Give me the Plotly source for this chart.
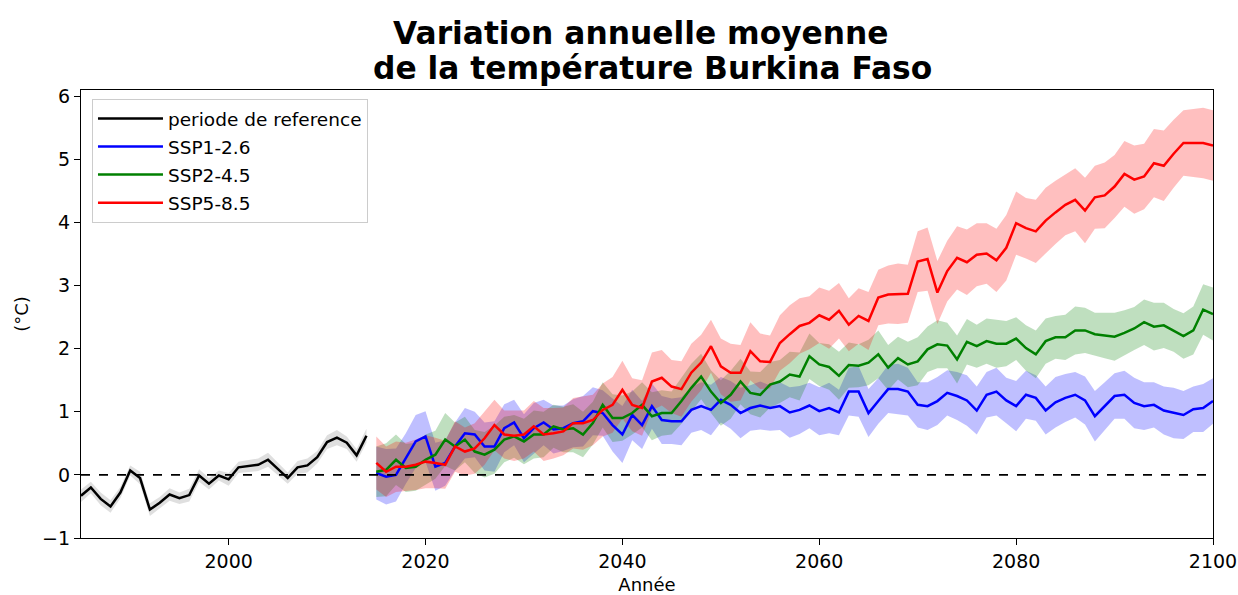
import plotly.graph_objects as go

# ---------------- data ----------------
hist_years = list(range(1985, 2015))
hist_values = [-0.33, -0.20, -0.38, -0.50, -0.28, 0.07, -0.05, -0.55, -0.44, -0.31,
               -0.37, -0.32, -0.01, -0.14, -0.01, -0.07, 0.12, 0.14, 0.16, 0.24,
               0.10, -0.05, 0.12, 0.15, 0.28, 0.52, 0.59, 0.51, 0.31, 0.62]
hist_spread = [0.10, 0.09, 0.10, 0.10, 0.09, 0.08, 0.10, 0.10, 0.09, 0.10,
               0.09, 0.10, 0.10, 0.09, 0.08, 0.10, 0.09, 0.10, 0.10, 0.11,
               0.10, 0.09, 0.10, 0.11, 0.10, 0.11, 0.12, 0.10, 0.10, 0.11]

ssp_years = list(range(2015, 2101))

ssp126 = [0.03, -0.03, 0.00, 0.26, 0.53, 0.61, 0.13, 0.19, 0.45, 0.66,
          0.64, 0.45, 0.45, 0.74, 0.83, 0.58, 0.74, 0.83, 0.72, 0.74,
          0.82, 0.85, 1.01, 0.98, 0.79, 0.64, 0.95, 0.79, 1.09, 0.87,
          0.85, 0.85, 1.03, 1.09, 1.03, 1.19, 1.11, 0.98, 1.06, 1.10,
          1.06, 1.09, 0.99, 1.03, 1.10, 1.01, 1.06, 0.99, 1.32, 1.32,
          0.98, 1.17, 1.36, 1.36, 1.32, 1.11, 1.09,
          1.17, 1.30, 1.25, 1.18, 1.02, 1.27, 1.32, 1.18, 1.09, 1.27,
          1.22, 1.02, 1.15, 1.22, 1.27, 1.18, 0.93, 1.09, 1.25, 1.27,
          1.14, 1.09, 1.11, 1.02, 0.98, 0.95, 1.04, 1.06, 1.17]
ssp126_spread = [0.42, 0.44, 0.42, 0.40, 0.42, 0.40, 0.38, 0.36, 0.38, 0.40,
                 0.36, 0.38, 0.40, 0.38, 0.36, 0.38, 0.40, 0.36, 0.38, 0.36,
                 0.38, 0.40, 0.38, 0.36, 0.42, 0.45, 0.40, 0.38, 0.36, 0.38,
                 0.36, 0.38, 0.36, 0.38, 0.40, 0.36, 0.38, 0.40, 0.36, 0.38,
                 0.36, 0.38, 0.40, 0.38, 0.36, 0.38, 0.40, 0.36, 0.38, 0.40,
                 0.38, 0.36, 0.38, 0.40, 0.38, 0.36, 0.38,
                 0.38, 0.36, 0.38, 0.40, 0.38, 0.36, 0.38, 0.36, 0.40, 0.38,
                 0.36, 0.38, 0.40, 0.38, 0.36, 0.38, 0.40, 0.38, 0.36, 0.38,
                 0.40, 0.38, 0.36, 0.38, 0.40, 0.38, 0.36, 0.38, 0.36]

ssp245 = [0.05, 0.08, 0.24, 0.11, 0.13, 0.24, 0.32, 0.56, 0.45, 0.56,
          0.37, 0.32, 0.40, 0.56, 0.61, 0.53, 0.64, 0.64, 0.77, 0.72,
          0.74, 0.64, 0.82, 1.11, 0.90, 0.90, 0.98, 1.11, 0.93, 0.98,
          0.98, 1.17, 1.38, 1.56, 1.32, 1.14, 1.27, 1.48, 1.30, 1.27,
          1.43, 1.48, 1.59, 1.56, 1.88, 1.75, 1.71, 1.57, 1.74, 1.73,
          1.78, 1.91, 1.70, 1.85, 1.75, 1.80, 1.99,
          2.07, 2.05, 1.83, 2.11, 2.04, 2.12, 2.08, 2.08, 2.16, 2.01,
          1.91, 2.12, 2.18, 2.18, 2.29, 2.29, 2.23, 2.21, 2.19, 2.25,
          2.32, 2.42, 2.35, 2.37, 2.29, 2.20, 2.29, 2.62, 2.55]
ssp245_spread = [0.40, 0.42, 0.40, 0.38, 0.38, 0.40, 0.38, 0.42, 0.38, 0.36,
                 0.34, 0.36, 0.38, 0.36, 0.34, 0.36, 0.38, 0.36, 0.34, 0.36,
                 0.38, 0.36, 0.34, 0.36, 0.38, 0.36, 0.34, 0.36, 0.38, 0.36,
                 0.34, 0.36, 0.38, 0.36, 0.34, 0.36, 0.38, 0.36, 0.34, 0.36,
                 0.36, 0.34, 0.36, 0.38, 0.36, 0.34, 0.36, 0.38, 0.36, 0.34,
                 0.36, 0.38, 0.36, 0.34, 0.36, 0.38, 0.36,
                 0.38, 0.36, 0.38, 0.36, 0.34, 0.36, 0.38, 0.36, 0.34, 0.36,
                 0.38, 0.36, 0.34, 0.36, 0.38, 0.36, 0.34, 0.36, 0.38, 0.36,
                 0.34, 0.36, 0.38, 0.36, 0.34, 0.36, 0.38, 0.40, 0.42]

ssp585 = [0.19, 0.05, 0.13, 0.13, 0.16, 0.21, 0.19, 0.16, 0.45, 0.37,
          0.42, 0.58, 0.79, 0.64, 0.62, 0.64, 0.77, 0.64, 0.66, 0.69,
          0.82, 0.82, 0.87, 1.03, 1.11, 1.35, 1.11, 1.06, 1.48, 1.54,
          1.40, 1.36, 1.62, 1.78, 2.04, 1.72, 1.62, 1.62, 1.96, 1.80,
          1.79, 2.09, 2.23, 2.36, 2.41, 2.53, 2.46, 2.60, 2.38, 2.52,
          2.44, 2.81, 2.86, 2.87, 2.87, 3.38, 3.42,
          2.89, 3.23, 3.44, 3.37, 3.49, 3.51, 3.40, 3.60, 3.99, 3.91,
          3.86, 4.03, 4.16, 4.28, 4.36, 4.19, 4.40, 4.43, 4.57, 4.77,
          4.68, 4.73, 4.94, 4.90, 5.09, 5.26, 5.26, 5.26, 5.22]
ssp585_spread = [0.42, 0.40, 0.40, 0.38, 0.40, 0.42, 0.40, 0.38, 0.40, 0.38,
                 0.40, 0.42, 0.40, 0.38, 0.40, 0.38, 0.40, 0.42, 0.40, 0.38,
                 0.40, 0.42, 0.40, 0.42, 0.44, 0.46, 0.42, 0.44, 0.46, 0.44,
                 0.42, 0.44, 0.46, 0.44, 0.42, 0.44, 0.46, 0.44, 0.46, 0.44,
                 0.42, 0.44, 0.46, 0.44, 0.42, 0.44, 0.46, 0.44, 0.42, 0.44,
                 0.46, 0.44, 0.46, 0.48, 0.46, 0.48, 0.50,
                 0.50, 0.48, 0.50, 0.52, 0.50, 0.48, 0.50, 0.52, 0.50, 0.48,
                 0.50, 0.52, 0.50, 0.48, 0.50, 0.52, 0.50, 0.52, 0.50, 0.52,
                 0.54, 0.52, 0.54, 0.56, 0.54, 0.52, 0.54, 0.56, 0.56]

assert len(hist_values) == len(hist_years) == len(hist_spread)
for s in (ssp126, ssp126_spread, ssp245, ssp245_spread, ssp585, ssp585_spread):
    assert len(s) == len(ssp_years), len(s)

series = [
    ("SSP1-2.6", ssp126, ssp126_spread, "#0000ff", "rgba(0,0,255,0.25)"),
    ("SSP2-4.5", ssp245, ssp245_spread, "#008000", "rgba(0,128,0,0.25)"),
    ("SSP5-8.5", ssp585, ssp585_spread, "#ff0000", "rgba(255,0,0,0.25)"),
]

FONT = "DejaVu Sans"

fig = go.Figure()


def add_band(years, vals, spread, fillcolor):
    upper = [v + s for v, s in zip(vals, spread)]
    lower = [v - s for v, s in zip(vals, spread)]
    fig.add_trace(go.Scatter(
        x=list(years) + list(years)[::-1],
        y=upper + lower[::-1],
        fill="toself", fillcolor=fillcolor,
        line=dict(width=0), mode="lines",
        showlegend=False, hoverinfo="skip"))


# historical
add_band(hist_years, hist_values, hist_spread, "rgba(128,128,128,0.25)")
fig.add_trace(go.Scatter(x=hist_years, y=hist_values, mode="lines",
                         line=dict(color="black", width=2.5),
                         name="periode de reference", legendgroup="g0"))

for i, (name, vals, spread, col, fcol) in enumerate(series):
    add_band(ssp_years, vals, spread, fcol)

for i, (name, vals, spread, col, fcol) in enumerate(series):
    fig.add_trace(go.Scatter(x=ssp_years, y=vals, mode="lines",
                             line=dict(color=col, width=2.5),
                             name=name, legendgroup=f"g{i+1}"))

# zero reference line
fig.add_shape(type="line", xref="paper", x0=0, x1=1, yref="y", y0=0, y1=0,
              line=dict(color="black", width=1.6, dash="dash"), layer="above")

axis_common = dict(
    showline=True, linecolor="black", linewidth=1.3, mirror=True,
    ticks="outside", ticklen=6, tickwidth=1.3, tickcolor="black",
    showgrid=False, zeroline=False, automargin=False,
    tickfont=dict(family=FONT, size=19, color="black"),
)

fig.update_layout(
    width=1238, height=595,
    margin=dict(l=81, r=25, t=90, b=57),
    paper_bgcolor="white", plot_bgcolor="white",
    font=dict(family=FONT, color="black"),
    xaxis=dict(range=[1985, 2100], tickvals=[2000, 2020, 2040, 2060, 2080, 2100],
               title=dict(text="Année", font=dict(family=FONT, size=18), standoff=7),
               **axis_common),
    yaxis=dict(range=[-1, 6.1], tickvals=[-1, 0, 1, 2, 3, 4, 5, 6],
               ticktext=["\u22121", "0", "1", "2", "3", "4", "5", "6"],
               title=dict(text="(°C)", font=dict(family=FONT, size=18), standoff=8),
               **axis_common),
    legend=dict(x=0.0097, y=0.98, xanchor="left", yanchor="top",
                bgcolor="rgba(255,255,255,0.8)", bordercolor="#cccccc", borderwidth=1,
                font=dict(family=FONT, size=18.5, color="black"),
                traceorder="grouped", tracegroupgap=1, itemwidth=65),
    annotations=[
        dict(text="<b>Variation annuelle moyenne</b>", xref="paper", yref="paper",
             x=0.495, y=1.127, xanchor="center", yanchor="middle", showarrow=False,
             font=dict(family=FONT, size=31.3, color="black")),
        dict(text="<b>de la température Burkina Faso</b>", xref="paper", yref="paper",
             x=0.505, y=1.049, xanchor="center", yanchor="middle", showarrow=False,
             font=dict(family=FONT, size=31.3, color="black")),
    ],
    showlegend=True,
)

# remove the default 8px page margin so the figure fills the window exactly
fig.write_html("out.html",
               config={"displayModeBar": False},
               post_script="document.body.style.margin='0';"
                           "document.body.style.overflow='hidden';")
